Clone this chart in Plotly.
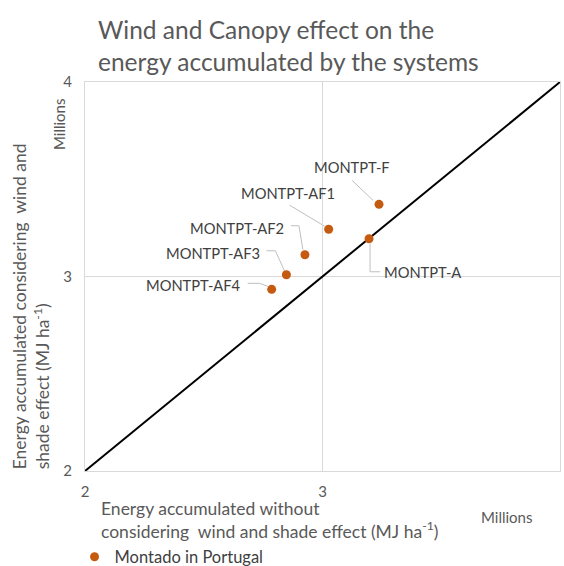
import plotly.graph_objects as go

# energy accumulated (millions of MJ/ha)
systems = ["MONTPT-F", "MONTPT-A", "MONTPT-AF1", "MONTPT-AF2", "MONTPT-AF3", "MONTPT-AF4"]
without_wind = [3.238, 3.196, 3.026, 2.926, 2.848, 2.786]
with_wind = [3.371, 3.194, 3.243, 3.112, 3.009, 2.934]
diag = [2, 4]
ticks = [2, 3, 4]

orange = "#C55A11"
grey_txt = "#595959"
font = "Lato, 'Open Sans', sans-serif"

# label offsets (screen px, y down) and leader paths relative to each point
label_pos = {
    "MONTPT-F": (-27, -37),
    "MONTPT-A": (53, 33),
    "MONTPT-AF1": (-41, -36),
    "MONTPT-AF2": (-68, -27),
    "MONTPT-AF3": (-73, -22),
    "MONTPT-AF4": (-78, -4),
}
leaders = {
    "MONTPT-F": [(-27, -24), (-6, -4)],
    "MONTPT-A": [(1, 5), (1, 33), (11, 33)],
    "MONTPT-AF1": [(-39, -24), (-4, -3)],
    "MONTPT-AF2": [(-14, -29), (-6, -29), (-2, -5)],
    "MONTPT-AF3": [(-20, -24), (-11, -24), (-2, -4)],
    "MONTPT-AF4": [(-24, -6), (-12, -6), (-4, -3)],
}

fig = go.Figure()

fig.add_trace(go.Scatter(x=diag, y=diag, mode="lines",
                         line=dict(color="black", width=2),
                         showlegend=False, hoverinfo="skip"))

fig.add_trace(go.Scatter(x=without_wind, y=with_wind, mode="markers",
                         name="Montado in Portugal",
                         marker=dict(color=orange, size=9)))

for name, xv, yv in zip(systems, without_wind, with_wind):
    dx, dy = label_pos[name]
    fig.add_annotation(x=xv, y=yv, text=name, showarrow=False,
                       xshift=dx, yshift=-dy,
                       font=dict(size=14.7, color="#404040", family=font))
    pts = leaders[name]
    path = "M " + " L ".join(f"{px},{-py}" for px, py in pts)
    fig.add_shape(type="path", path=path, xref="x", yref="y",
                  xsizemode="pixel", ysizemode="pixel",
                  xanchor=xv, yanchor=yv,
                  line=dict(color="#bfbfbf", width=1), layer="below")

# axis titles
fig.add_annotation(xref="paper", yref="paper", x=0.03, y=-0.063,
                   xanchor="left", yanchor="top", align="left", showarrow=False,
                   text="Energy accumulated without<br>considering  wind and shade effect (MJ ha<sup>-1</sup>)",
                   font=dict(size=17.5, color=grey_txt, family=font))
fig.add_annotation(xref="paper", yref="paper", x=-0.113, y=0.0,
                   xanchor="center", yanchor="bottom", align="left", showarrow=False,
                   textangle=-90,
                   text="Energy accumulated considering  wind and<br>shade effect (MJ ha<sup>-1</sup>)",
                   font=dict(size=17.5, color=grey_txt, family=font))
fig.add_annotation(xref="paper", yref="paper", x=(506 - 85) / 475, y=(471 - 517) / 389,
                   xanchor="center", yanchor="middle",
                   showarrow=False, text="Millions",
                   font=dict(size=15, color=grey_txt, family=font))
fig.add_annotation(xref="paper", yref="paper", x=(59 - 85) / 475, y=(471 - 125) / 389,
                   xanchor="center", yanchor="middle",
                   showarrow=False, text="Millions", textangle=-90,
                   font=dict(size=15, color=grey_txt, family=font))

axis_style = dict(range=[2, 4], tickvals=ticks, showgrid=True, gridcolor="#d9d9d9",
                  showline=True, linecolor="#d9d9d9", mirror=True, zeroline=False,
                  automargin=False,
                  tickfont=dict(size=15, color=grey_txt, family=font))

fig.update_xaxes(**axis_style, ticklabelstandoff=7)
fig.update_yaxes(**axis_style, ticklabelstandoff=9)

fig.update_layout(
    width=564, height=566,
    margin=dict(l=85, r=4, t=82, b=95, autoexpand=False),
    paper_bgcolor="white", plot_bgcolor="white",
    title=dict(text="Wind and Canopy effect on the<br>energy accumulated by the systems",
               x=98 / 564, xanchor="left", y=1 - 39 / 566, yanchor="top",
               pad=dict(l=0, t=0), automargin=False,
               font=dict(size=24.5, color=grey_txt, family=font)),
    legend=dict(orientation="h", x=-0.022, xanchor="left", y=(471 - 557) / 389, yanchor="middle",
                font=dict(size=16.5, color="#404040", family=font),
                itemwidth=30),
    showlegend=True,
)

# drop the default page margin so the figure sits at the window's corner
fig.write_html("out.html", config={"displayModeBar": False},
               post_script="document.body.style.margin='0';")
